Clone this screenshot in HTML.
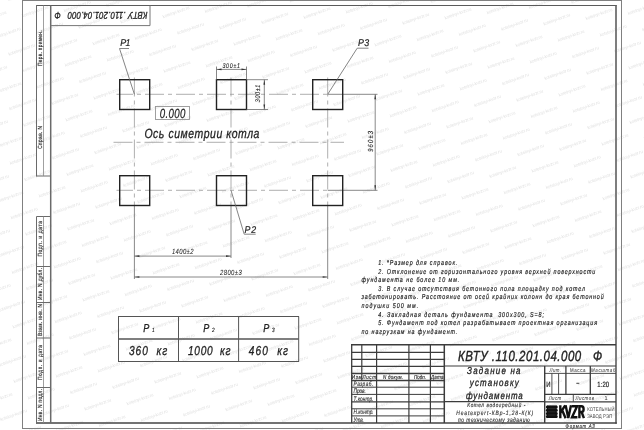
<!DOCTYPE html>
<html><head><meta charset="utf-8"><style>
html,body{margin:0;padding:0;background:#fff;}
svg{display:block;will-change:transform;}
text{font-family:"Liberation Sans", sans-serif;text-rendering:geometricPrecision;}
</style></head><body>
<svg width="644" height="430" viewBox="0 0 644 430">
<rect width="644" height="430" fill="#fff"/>
<defs><text id="wm" x="0" y="15" transform="rotate(-19.5) scale(0.1)" text-anchor="middle" font-size="46" fill="#e2e2e2" textLength="280" lengthAdjust="spacingAndGlyphs">kotelnyi-kvzr.ru</text></defs><use href="#wm" x="-14.5" y="436.7"/><use href="#wm" x="-15.3" y="382.1"/><use href="#wm" x="-1.0" y="398.6"/><use href="#wm" x="13.4" y="415.0"/><use href="#wm" x="27.7" y="431.4"/><use href="#wm" x="-16.2" y="327.6"/><use href="#wm" x="-1.9" y="344.0"/><use href="#wm" x="12.5" y="360.4"/><use href="#wm" x="26.9" y="376.9"/><use href="#wm" x="41.2" y="393.3"/><use href="#wm" x="55.6" y="409.7"/><use href="#wm" x="69.9" y="426.2"/><use href="#wm" x="-17.1" y="273.0"/><use href="#wm" x="-2.7" y="289.5"/><use href="#wm" x="11.6" y="305.9"/><use href="#wm" x="26.0" y="322.3"/><use href="#wm" x="40.3" y="338.8"/><use href="#wm" x="54.7" y="355.2"/><use href="#wm" x="69.1" y="371.6"/><use href="#wm" x="83.4" y="388.0"/><use href="#wm" x="97.8" y="404.5"/><use href="#wm" x="112.1" y="420.9"/><use href="#wm" x="126.5" y="437.3"/><use href="#wm" x="-18.0" y="218.5"/><use href="#wm" x="-3.6" y="234.9"/><use href="#wm" x="10.7" y="251.3"/><use href="#wm" x="25.1" y="267.8"/><use href="#wm" x="39.5" y="284.2"/><use href="#wm" x="53.8" y="300.6"/><use href="#wm" x="68.2" y="317.1"/><use href="#wm" x="82.5" y="333.5"/><use href="#wm" x="96.9" y="349.9"/><use href="#wm" x="111.3" y="366.4"/><use href="#wm" x="125.6" y="382.8"/><use href="#wm" x="140.0" y="399.2"/><use href="#wm" x="154.3" y="415.6"/><use href="#wm" x="168.7" y="432.1"/><use href="#wm" x="-18.9" y="163.9"/><use href="#wm" x="-4.5" y="180.4"/><use href="#wm" x="9.9" y="196.8"/><use href="#wm" x="24.2" y="213.2"/><use href="#wm" x="38.6" y="229.7"/><use href="#wm" x="52.9" y="246.1"/><use href="#wm" x="67.3" y="262.5"/><use href="#wm" x="81.7" y="278.9"/><use href="#wm" x="96.0" y="295.4"/><use href="#wm" x="110.4" y="311.8"/><use href="#wm" x="124.7" y="328.2"/><use href="#wm" x="139.1" y="344.7"/><use href="#wm" x="153.5" y="361.1"/><use href="#wm" x="167.8" y="377.5"/><use href="#wm" x="182.2" y="394.0"/><use href="#wm" x="196.5" y="410.4"/><use href="#wm" x="210.9" y="426.8"/><use href="#wm" x="-19.7" y="109.4"/><use href="#wm" x="-5.4" y="125.8"/><use href="#wm" x="9.0" y="142.2"/><use href="#wm" x="23.3" y="158.7"/><use href="#wm" x="37.7" y="175.1"/><use href="#wm" x="52.1" y="191.5"/><use href="#wm" x="66.4" y="208.0"/><use href="#wm" x="80.8" y="224.4"/><use href="#wm" x="95.1" y="240.8"/><use href="#wm" x="109.5" y="257.2"/><use href="#wm" x="123.9" y="273.7"/><use href="#wm" x="138.2" y="290.1"/><use href="#wm" x="152.6" y="306.5"/><use href="#wm" x="166.9" y="323.0"/><use href="#wm" x="181.3" y="339.4"/><use href="#wm" x="195.7" y="355.8"/><use href="#wm" x="210.0" y="372.3"/><use href="#wm" x="224.4" y="388.7"/><use href="#wm" x="238.7" y="405.1"/><use href="#wm" x="253.1" y="421.5"/><use href="#wm" x="267.5" y="438.0"/><use href="#wm" x="-6.3" y="71.3"/><use href="#wm" x="8.1" y="87.7"/><use href="#wm" x="22.5" y="104.1"/><use href="#wm" x="36.8" y="120.6"/><use href="#wm" x="51.2" y="137.0"/><use href="#wm" x="65.5" y="153.4"/><use href="#wm" x="79.9" y="169.8"/><use href="#wm" x="94.3" y="186.3"/><use href="#wm" x="108.6" y="202.7"/><use href="#wm" x="123.0" y="219.1"/><use href="#wm" x="137.3" y="235.6"/><use href="#wm" x="151.7" y="252.0"/><use href="#wm" x="166.1" y="268.4"/><use href="#wm" x="180.4" y="284.9"/><use href="#wm" x="194.8" y="301.3"/><use href="#wm" x="209.1" y="317.7"/><use href="#wm" x="223.5" y="334.1"/><use href="#wm" x="237.9" y="350.6"/><use href="#wm" x="252.2" y="367.0"/><use href="#wm" x="266.6" y="383.4"/><use href="#wm" x="280.9" y="399.9"/><use href="#wm" x="295.3" y="416.3"/><use href="#wm" x="309.7" y="432.7"/><use href="#wm" x="-7.1" y="16.7"/><use href="#wm" x="7.2" y="33.1"/><use href="#wm" x="21.6" y="49.6"/><use href="#wm" x="35.9" y="66.0"/><use href="#wm" x="50.3" y="82.4"/><use href="#wm" x="64.7" y="98.9"/><use href="#wm" x="79.0" y="115.3"/><use href="#wm" x="93.4" y="131.7"/><use href="#wm" x="107.7" y="148.1"/><use href="#wm" x="122.1" y="164.6"/><use href="#wm" x="136.5" y="181.0"/><use href="#wm" x="150.8" y="197.4"/><use href="#wm" x="165.2" y="213.9"/><use href="#wm" x="179.5" y="230.3"/><use href="#wm" x="193.9" y="246.7"/><use href="#wm" x="208.3" y="263.2"/><use href="#wm" x="222.6" y="279.6"/><use href="#wm" x="237.0" y="296.0"/><use href="#wm" x="251.3" y="312.4"/><use href="#wm" x="265.7" y="328.9"/><use href="#wm" x="280.1" y="345.3"/><use href="#wm" x="294.4" y="361.7"/><use href="#wm" x="308.8" y="378.2"/><use href="#wm" x="323.1" y="394.6"/><use href="#wm" x="337.5" y="411.0"/><use href="#wm" x="351.9" y="427.5"/><use href="#wm" x="20.7" y="-5.0"/><use href="#wm" x="35.1" y="11.4"/><use href="#wm" x="49.4" y="27.9"/><use href="#wm" x="63.8" y="44.3"/><use href="#wm" x="78.1" y="60.7"/><use href="#wm" x="92.5" y="77.2"/><use href="#wm" x="106.9" y="93.6"/><use href="#wm" x="121.2" y="110.0"/><use href="#wm" x="135.6" y="126.5"/><use href="#wm" x="149.9" y="142.9"/><use href="#wm" x="164.3" y="159.3"/><use href="#wm" x="178.7" y="175.8"/><use href="#wm" x="193.0" y="192.2"/><use href="#wm" x="207.4" y="208.6"/><use href="#wm" x="221.7" y="225.0"/><use href="#wm" x="236.1" y="241.5"/><use href="#wm" x="250.5" y="257.9"/><use href="#wm" x="264.8" y="274.3"/><use href="#wm" x="279.2" y="290.8"/><use href="#wm" x="293.5" y="307.2"/><use href="#wm" x="307.9" y="323.6"/><use href="#wm" x="322.3" y="340.0"/><use href="#wm" x="336.6" y="356.5"/><use href="#wm" x="351.0" y="372.9"/><use href="#wm" x="365.3" y="389.3"/><use href="#wm" x="379.7" y="405.8"/><use href="#wm" x="394.1" y="422.2"/><use href="#wm" x="408.4" y="438.6"/><use href="#wm" x="77.3" y="6.2"/><use href="#wm" x="91.6" y="22.6"/><use href="#wm" x="106.0" y="39.1"/><use href="#wm" x="120.3" y="55.5"/><use href="#wm" x="134.7" y="71.9"/><use href="#wm" x="149.1" y="88.3"/><use href="#wm" x="163.4" y="104.8"/><use href="#wm" x="177.8" y="121.2"/><use href="#wm" x="192.1" y="137.6"/><use href="#wm" x="206.5" y="154.1"/><use href="#wm" x="220.9" y="170.5"/><use href="#wm" x="235.2" y="186.9"/><use href="#wm" x="249.6" y="203.3"/><use href="#wm" x="263.9" y="219.8"/><use href="#wm" x="278.3" y="236.2"/><use href="#wm" x="292.7" y="252.6"/><use href="#wm" x="307.0" y="269.1"/><use href="#wm" x="321.4" y="285.5"/><use href="#wm" x="335.7" y="301.9"/><use href="#wm" x="350.1" y="318.4"/><use href="#wm" x="364.5" y="334.8"/><use href="#wm" x="378.8" y="351.2"/><use href="#wm" x="393.2" y="367.6"/><use href="#wm" x="407.5" y="384.1"/><use href="#wm" x="421.9" y="400.5"/><use href="#wm" x="436.3" y="416.9"/><use href="#wm" x="450.6" y="433.4"/><use href="#wm" x="119.5" y="0.9"/><use href="#wm" x="133.8" y="17.4"/><use href="#wm" x="148.2" y="33.8"/><use href="#wm" x="162.5" y="50.2"/><use href="#wm" x="176.9" y="66.7"/><use href="#wm" x="191.3" y="83.1"/><use href="#wm" x="205.6" y="99.5"/><use href="#wm" x="220.0" y="115.9"/><use href="#wm" x="234.3" y="132.4"/><use href="#wm" x="248.7" y="148.8"/><use href="#wm" x="263.1" y="165.2"/><use href="#wm" x="277.4" y="181.7"/><use href="#wm" x="291.8" y="198.1"/><use href="#wm" x="306.1" y="214.5"/><use href="#wm" x="320.5" y="231.0"/><use href="#wm" x="334.9" y="247.4"/><use href="#wm" x="349.2" y="263.8"/><use href="#wm" x="363.6" y="280.2"/><use href="#wm" x="377.9" y="296.7"/><use href="#wm" x="392.3" y="313.1"/><use href="#wm" x="406.7" y="329.5"/><use href="#wm" x="421.0" y="346.0"/><use href="#wm" x="435.4" y="362.4"/><use href="#wm" x="449.7" y="378.8"/><use href="#wm" x="464.1" y="395.2"/><use href="#wm" x="478.5" y="411.7"/><use href="#wm" x="492.8" y="428.1"/><use href="#wm" x="161.7" y="-4.3"/><use href="#wm" x="176.0" y="12.1"/><use href="#wm" x="190.4" y="28.5"/><use href="#wm" x="204.7" y="45.0"/><use href="#wm" x="219.1" y="61.4"/><use href="#wm" x="233.5" y="77.8"/><use href="#wm" x="247.8" y="94.2"/><use href="#wm" x="262.2" y="110.7"/><use href="#wm" x="276.5" y="127.1"/><use href="#wm" x="290.9" y="143.5"/><use href="#wm" x="305.3" y="160.0"/><use href="#wm" x="319.6" y="176.4"/><use href="#wm" x="334.0" y="192.8"/><use href="#wm" x="348.3" y="209.3"/><use href="#wm" x="362.7" y="225.7"/><use href="#wm" x="377.1" y="242.1"/><use href="#wm" x="391.4" y="258.5"/><use href="#wm" x="405.8" y="275.0"/><use href="#wm" x="420.1" y="291.4"/><use href="#wm" x="434.5" y="307.8"/><use href="#wm" x="448.9" y="324.3"/><use href="#wm" x="463.2" y="340.7"/><use href="#wm" x="477.6" y="357.1"/><use href="#wm" x="491.9" y="373.6"/><use href="#wm" x="506.3" y="390.0"/><use href="#wm" x="520.7" y="406.4"/><use href="#wm" x="535.0" y="422.9"/><use href="#wm" x="549.4" y="439.3"/><use href="#wm" x="203.9" y="-9.6"/><use href="#wm" x="218.2" y="6.8"/><use href="#wm" x="232.6" y="23.3"/><use href="#wm" x="246.9" y="39.7"/><use href="#wm" x="261.3" y="56.1"/><use href="#wm" x="275.7" y="72.6"/><use href="#wm" x="290.0" y="89.0"/><use href="#wm" x="304.4" y="105.4"/><use href="#wm" x="318.7" y="121.8"/><use href="#wm" x="333.1" y="138.3"/><use href="#wm" x="347.5" y="154.7"/><use href="#wm" x="361.8" y="171.1"/><use href="#wm" x="376.2" y="187.6"/><use href="#wm" x="390.5" y="204.0"/><use href="#wm" x="404.9" y="220.4"/><use href="#wm" x="419.3" y="236.9"/><use href="#wm" x="433.6" y="253.3"/><use href="#wm" x="448.0" y="269.7"/><use href="#wm" x="462.3" y="286.1"/><use href="#wm" x="476.7" y="302.6"/><use href="#wm" x="491.1" y="319.0"/><use href="#wm" x="505.4" y="335.4"/><use href="#wm" x="519.8" y="351.9"/><use href="#wm" x="534.1" y="368.3"/><use href="#wm" x="548.5" y="384.7"/><use href="#wm" x="562.9" y="401.2"/><use href="#wm" x="577.2" y="417.6"/><use href="#wm" x="591.6" y="434.0"/><use href="#wm" x="260.4" y="1.6"/><use href="#wm" x="274.8" y="18.0"/><use href="#wm" x="289.1" y="34.4"/><use href="#wm" x="303.5" y="50.9"/><use href="#wm" x="317.9" y="67.3"/><use href="#wm" x="332.2" y="83.7"/><use href="#wm" x="346.6" y="100.2"/><use href="#wm" x="360.9" y="116.6"/><use href="#wm" x="375.3" y="133.0"/><use href="#wm" x="389.7" y="149.5"/><use href="#wm" x="404.0" y="165.9"/><use href="#wm" x="418.4" y="182.3"/><use href="#wm" x="432.7" y="198.7"/><use href="#wm" x="447.1" y="215.2"/><use href="#wm" x="461.5" y="231.6"/><use href="#wm" x="475.8" y="248.0"/><use href="#wm" x="490.2" y="264.5"/><use href="#wm" x="504.5" y="280.9"/><use href="#wm" x="518.9" y="297.3"/><use href="#wm" x="533.3" y="313.8"/><use href="#wm" x="547.6" y="330.2"/><use href="#wm" x="562.0" y="346.6"/><use href="#wm" x="576.3" y="363.0"/><use href="#wm" x="590.7" y="379.5"/><use href="#wm" x="605.1" y="395.9"/><use href="#wm" x="619.4" y="412.3"/><use href="#wm" x="633.8" y="428.8"/><use href="#wm" x="302.6" y="-3.7"/><use href="#wm" x="317.0" y="12.8"/><use href="#wm" x="331.3" y="29.2"/><use href="#wm" x="345.7" y="45.6"/><use href="#wm" x="360.1" y="62.0"/><use href="#wm" x="374.4" y="78.5"/><use href="#wm" x="388.8" y="94.9"/><use href="#wm" x="403.1" y="111.3"/><use href="#wm" x="417.5" y="127.8"/><use href="#wm" x="431.9" y="144.2"/><use href="#wm" x="446.2" y="160.6"/><use href="#wm" x="460.6" y="177.1"/><use href="#wm" x="474.9" y="193.5"/><use href="#wm" x="489.3" y="209.9"/><use href="#wm" x="503.7" y="226.3"/><use href="#wm" x="518.0" y="242.8"/><use href="#wm" x="532.4" y="259.2"/><use href="#wm" x="546.7" y="275.6"/><use href="#wm" x="561.1" y="292.1"/><use href="#wm" x="575.5" y="308.5"/><use href="#wm" x="589.8" y="324.9"/><use href="#wm" x="604.2" y="341.4"/><use href="#wm" x="618.5" y="357.8"/><use href="#wm" x="632.9" y="374.2"/><use href="#wm" x="647.3" y="390.6"/><use href="#wm" x="661.6" y="407.1"/><use href="#wm" x="344.8" y="-8.9"/><use href="#wm" x="359.2" y="7.5"/><use href="#wm" x="373.5" y="23.9"/><use href="#wm" x="387.9" y="40.3"/><use href="#wm" x="402.3" y="56.8"/><use href="#wm" x="416.6" y="73.2"/><use href="#wm" x="431.0" y="89.6"/><use href="#wm" x="445.3" y="106.1"/><use href="#wm" x="459.7" y="122.5"/><use href="#wm" x="474.1" y="138.9"/><use href="#wm" x="488.4" y="155.4"/><use href="#wm" x="502.8" y="171.8"/><use href="#wm" x="517.1" y="188.2"/><use href="#wm" x="531.5" y="204.7"/><use href="#wm" x="545.9" y="221.1"/><use href="#wm" x="560.2" y="237.5"/><use href="#wm" x="574.6" y="253.9"/><use href="#wm" x="588.9" y="270.4"/><use href="#wm" x="603.3" y="286.8"/><use href="#wm" x="617.7" y="303.2"/><use href="#wm" x="632.0" y="319.7"/><use href="#wm" x="646.4" y="336.1"/><use href="#wm" x="660.7" y="352.5"/><use href="#wm" x="401.4" y="2.2"/><use href="#wm" x="415.7" y="18.7"/><use href="#wm" x="430.1" y="35.1"/><use href="#wm" x="444.5" y="51.5"/><use href="#wm" x="458.8" y="67.9"/><use href="#wm" x="473.2" y="84.4"/><use href="#wm" x="487.5" y="100.8"/><use href="#wm" x="501.9" y="117.2"/><use href="#wm" x="516.3" y="133.7"/><use href="#wm" x="530.6" y="150.1"/><use href="#wm" x="545.0" y="166.5"/><use href="#wm" x="559.3" y="183.0"/><use href="#wm" x="573.7" y="199.4"/><use href="#wm" x="588.1" y="215.8"/><use href="#wm" x="602.4" y="232.2"/><use href="#wm" x="616.8" y="248.7"/><use href="#wm" x="631.1" y="265.1"/><use href="#wm" x="645.5" y="281.5"/><use href="#wm" x="659.9" y="298.0"/><use href="#wm" x="443.6" y="-3.0"/><use href="#wm" x="457.9" y="13.4"/><use href="#wm" x="472.3" y="29.8"/><use href="#wm" x="486.7" y="46.3"/><use href="#wm" x="501.0" y="62.7"/><use href="#wm" x="515.4" y="79.1"/><use href="#wm" x="529.7" y="95.6"/><use href="#wm" x="544.1" y="112.0"/><use href="#wm" x="558.5" y="128.4"/><use href="#wm" x="572.8" y="144.8"/><use href="#wm" x="587.2" y="161.3"/><use href="#wm" x="601.5" y="177.7"/><use href="#wm" x="615.9" y="194.1"/><use href="#wm" x="630.3" y="210.6"/><use href="#wm" x="644.6" y="227.0"/><use href="#wm" x="659.0" y="243.4"/><use href="#wm" x="485.8" y="-8.3"/><use href="#wm" x="500.1" y="8.1"/><use href="#wm" x="514.5" y="24.6"/><use href="#wm" x="528.9" y="41.0"/><use href="#wm" x="543.2" y="57.4"/><use href="#wm" x="557.6" y="73.9"/><use href="#wm" x="571.9" y="90.3"/><use href="#wm" x="586.3" y="106.7"/><use href="#wm" x="600.7" y="123.2"/><use href="#wm" x="615.0" y="139.6"/><use href="#wm" x="629.4" y="156.0"/><use href="#wm" x="643.7" y="172.4"/><use href="#wm" x="658.1" y="188.9"/><use href="#wm" x="542.3" y="2.9"/><use href="#wm" x="556.7" y="19.3"/><use href="#wm" x="571.1" y="35.7"/><use href="#wm" x="585.4" y="52.2"/><use href="#wm" x="599.8" y="68.6"/><use href="#wm" x="614.1" y="85.0"/><use href="#wm" x="628.5" y="101.5"/><use href="#wm" x="642.9" y="117.9"/><use href="#wm" x="657.2" y="134.3"/><use href="#wm" x="584.5" y="-2.4"/><use href="#wm" x="598.9" y="14.0"/><use href="#wm" x="613.3" y="30.5"/><use href="#wm" x="627.6" y="46.9"/><use href="#wm" x="642.0" y="63.3"/><use href="#wm" x="656.3" y="79.8"/><use href="#wm" x="626.7" y="-7.6"/><use href="#wm" x="641.1" y="8.8"/><use href="#wm" x="655.5" y="25.2"/>
<rect x="22.5" y="0.5" width="599" height="428" stroke="#808080" stroke-width="1" fill="none"/>
<line x1="36" y1="5.5" x2="616.5" y2="5.5" stroke="#5a5a5a" stroke-width="1.2"/>
<line x1="616" y1="5" x2="616" y2="423.7" stroke="#5e5e5e" stroke-width="1.6"/>
<line x1="36" y1="423" x2="616.8" y2="423" stroke="#444" stroke-width="1.3"/>
<line x1="50.7" y1="5.5" x2="50.7" y2="423" stroke="#6a6a6a" stroke-width="1.5"/>
<line x1="36.5" y1="5" x2="36.5" y2="176.5" stroke="#6a6a6a" stroke-width="1"/>
<line x1="36.5" y1="176" x2="50.7" y2="176" stroke="#6a6a6a" stroke-width="1"/>
<line x1="43.5" y1="5.5" x2="43.5" y2="176" stroke="#888" stroke-width="0.8"/>
<line x1="36.5" y1="216.5" x2="36.5" y2="423.5" stroke="#6a6a6a" stroke-width="1"/>
<line x1="36.5" y1="216.5" x2="50.7" y2="216.5" stroke="#6a6a6a" stroke-width="1"/>
<line x1="43.5" y1="216.5" x2="43.5" y2="423" stroke="#888" stroke-width="0.8"/>
<line x1="36.5" y1="266.5" x2="50.7" y2="266.5" stroke="#6a6a6a" stroke-width="1"/>
<line x1="36.5" y1="302.5" x2="50.7" y2="302.5" stroke="#6a6a6a" stroke-width="1"/>
<line x1="36.5" y1="338" x2="50.7" y2="338" stroke="#6a6a6a" stroke-width="1"/>
<line x1="36.5" y1="387.5" x2="50.7" y2="387.5" stroke="#6a6a6a" stroke-width="1"/>
<line x1="50.7" y1="25.6" x2="150" y2="25.6" stroke="#777" stroke-width="1"/>
<line x1="150" y1="5.5" x2="150" y2="25.6" stroke="#777" stroke-width="1"/>
<text font-size="60.0" fill="#333" textLength="443.8" lengthAdjust="spacing" transform="translate(42.1 66) rotate(-90) scale(0.0800 0.1)" font-weight="normal" stroke="#333" stroke-width="2.00">Перв. примен.</text>
<text font-size="60.0" fill="#333" textLength="285.0" lengthAdjust="spacing" transform="translate(42.1 148.8) rotate(-90) scale(0.0800 0.1)" font-weight="normal" stroke="#333" stroke-width="2.00">Справ. N</text>
<text font-size="60.0" fill="#333" textLength="443.8" lengthAdjust="spacing" transform="translate(41.8 256.5) rotate(-90) scale(0.0800 0.1)" font-weight="normal" stroke="#333" stroke-width="2.00">Подп. и дата</text>
<text font-size="60.0" fill="#333" textLength="400.0" lengthAdjust="spacing" transform="translate(41.8 300) rotate(-90) scale(0.0800 0.1)" font-weight="normal" stroke="#333" stroke-width="2.00">Инв. N дубл.</text>
<text font-size="60.0" fill="#333" textLength="400.0" lengthAdjust="spacing" transform="translate(41.8 336) rotate(-90) scale(0.0800 0.1)" font-weight="normal" stroke="#333" stroke-width="2.00">Взам. инв. N</text>
<text font-size="60.0" fill="#333" textLength="437.5" lengthAdjust="spacing" transform="translate(41.8 380) rotate(-90) scale(0.0800 0.1)" font-weight="normal" stroke="#333" stroke-width="2.00">Подп. и дата</text>
<text font-size="60.0" fill="#333" textLength="400.0" lengthAdjust="spacing" transform="translate(41.8 421) rotate(-90) scale(0.0800 0.1)" font-weight="normal" stroke="#333" stroke-width="2.00">Инв. N подл.</text>
<text font-size="100.0" fill="#222" font-style="italic" textLength="1192.3" lengthAdjust="spacing" transform="translate(147.5 12) rotate(180) scale(0.0780 0.1)" font-weight="normal" stroke="#222" stroke-width="3.00">КВТУ .110.201.04.000&#160;&#160; Ф</text>
<line x1="116.5" y1="94.3" x2="327.7" y2="94.3" stroke="#9a9a9a" stroke-width="0.8" stroke-dasharray="19 4 4 4" stroke-dashoffset="2.5"/>
<line x1="327.7" y1="94.3" x2="377.5" y2="94.3" stroke="#6a6a6a" stroke-width="0.8"/>
<line x1="116.5" y1="190.3" x2="327.7" y2="190.3" stroke="#9a9a9a" stroke-width="0.8" stroke-dasharray="19 4 4 4" stroke-dashoffset="2.5"/>
<line x1="327.7" y1="190.3" x2="377.5" y2="190.3" stroke="#6a6a6a" stroke-width="0.8"/>
<line x1="113.5" y1="142.3" x2="344" y2="142.3" stroke="#9a9a9a" stroke-width="0.8" stroke-dasharray="19 4 4 4" stroke-dashoffset="0"/>
<line x1="134.4" y1="75.5" x2="134.4" y2="205.5" stroke="#9a9a9a" stroke-width="0.8" stroke-dasharray="19 4 4 4" stroke-dashoffset="-2"/>
<line x1="134.4" y1="205.5" x2="134.4" y2="279" stroke="#6a6a6a" stroke-width="0.8"/>
<line x1="231" y1="75.5" x2="231" y2="205.5" stroke="#9a9a9a" stroke-width="0.8" stroke-dasharray="19 4 4 4" stroke-dashoffset="-2"/>
<line x1="231" y1="205.5" x2="231" y2="258" stroke="#6a6a6a" stroke-width="0.8"/>
<line x1="327.7" y1="75.5" x2="327.7" y2="205.5" stroke="#9a9a9a" stroke-width="0.8" stroke-dasharray="19 4 4 4" stroke-dashoffset="-2"/>
<line x1="327.7" y1="205.5" x2="327.7" y2="279" stroke="#6a6a6a" stroke-width="0.8"/>
<rect x="119.7" y="79.7" width="30" height="29.8" stroke="#222" stroke-width="1.4" fill="none"/>
<rect x="119.7" y="175.7" width="30" height="29.8" stroke="#222" stroke-width="1.4" fill="none"/>
<rect x="216.5" y="79.7" width="30" height="29.8" stroke="#222" stroke-width="1.4" fill="none"/>
<rect x="216.5" y="175.7" width="30" height="29.8" stroke="#222" stroke-width="1.4" fill="none"/>
<rect x="312.7" y="79.7" width="30" height="29.8" stroke="#222" stroke-width="1.4" fill="none"/>
<rect x="312.7" y="175.7" width="30" height="29.8" stroke="#222" stroke-width="1.4" fill="none"/>
<line x1="119.5" y1="48.5" x2="134.4" y2="94.3" stroke="#666" stroke-width="0.8"/>
<line x1="119.5" y1="48.5" x2="129" y2="48.5" stroke="#666" stroke-width="0.8"/>
<text font-size="98.0" fill="#222" font-style="italic" textLength="113.3" lengthAdjust="spacing" transform="translate(120.3 46.3) scale(0.0900 0.1)" font-weight="normal" stroke="#222" stroke-width="2.00">P1</text>
<line x1="357.2" y1="48.2" x2="327.7" y2="94.3" stroke="#666" stroke-width="0.8"/>
<line x1="357.2" y1="48.2" x2="368.5" y2="48.2" stroke="#666" stroke-width="0.8"/>
<text font-size="98.0" fill="#222" font-style="italic" textLength="124.4" lengthAdjust="spacing" transform="translate(358 46.2) scale(0.0900 0.1)" font-weight="normal" stroke="#222" stroke-width="2.00">P3</text>
<line x1="231" y1="190.3" x2="244.2" y2="234.2" stroke="#666" stroke-width="0.8"/>
<line x1="244.2" y1="234.2" x2="255.7" y2="234.2" stroke="#666" stroke-width="0.8"/>
<text font-size="98.0" fill="#222" font-style="italic" textLength="127.8" lengthAdjust="spacing" transform="translate(244.6 232.9) scale(0.0900 0.1)" font-weight="normal" stroke="#222" stroke-width="2.00">P2</text>
<line x1="216.5" y1="66.5" x2="216.5" y2="79.7" stroke="#6a6a6a" stroke-width="0.8"/>
<line x1="246.5" y1="66.5" x2="246.5" y2="79.7" stroke="#6a6a6a" stroke-width="0.8"/>
<line x1="216.5" y1="69.4" x2="246.5" y2="69.4" stroke="#6a6a6a" stroke-width="0.8"/>
<polygon points="216.50,69.40 221.50,68.55 221.50,70.25" fill="#333"/>
<polygon points="246.50,69.40 241.50,68.55 241.50,70.25" fill="#333"/>
<text font-size="68.0" fill="#222" font-style="italic" textLength="225.6" lengthAdjust="spacing" transform="translate(222.4 67.9) scale(0.0780 0.1)" font-weight="normal" stroke="#222" stroke-width="1.00">300±1</text>
<line x1="246.5" y1="79.7" x2="268" y2="79.7" stroke="#6a6a6a" stroke-width="0.8"/>
<line x1="246.5" y1="109.5" x2="268" y2="109.5" stroke="#6a6a6a" stroke-width="0.8"/>
<line x1="264.3" y1="79.7" x2="264.3" y2="109.5" stroke="#6a6a6a" stroke-width="0.8"/>
<polygon points="264.30,79.70 263.45,84.70 265.15,84.70" fill="#333"/>
<polygon points="264.30,109.50 263.45,104.50 265.15,104.50" fill="#333"/>
<text font-size="68.0" fill="#222" font-style="italic" textLength="223.1" lengthAdjust="spacing" transform="translate(260 102.2) rotate(-90) scale(0.0780 0.1)" font-weight="normal" stroke="#222" stroke-width="1.00">300±1</text>
<line x1="375.2" y1="94.3" x2="375.2" y2="190.3" stroke="#6a6a6a" stroke-width="0.8"/>
<polygon points="375.20,94.30 374.35,99.30 376.05,99.30" fill="#333"/>
<polygon points="375.20,190.30 374.35,185.30 376.05,185.30" fill="#333"/>
<text font-size="74.0" fill="#222" font-style="italic" textLength="266.7" lengthAdjust="spacing" transform="translate(373.4 151.8) rotate(-90) scale(0.0780 0.1)" font-weight="normal" stroke="#222" stroke-width="1.00">960±3</text>
<line x1="134.4" y1="256.1" x2="231" y2="256.1" stroke="#6a6a6a" stroke-width="0.8"/>
<polygon points="134.40,256.10 139.40,255.25 139.40,256.95" fill="#333"/>
<polygon points="231.00,256.10 226.00,255.25 226.00,256.95" fill="#333"/>
<text font-size="76.0" fill="#222" font-style="italic" textLength="276.9" lengthAdjust="spacing" transform="translate(171.9 254) scale(0.0780 0.1)" font-weight="normal" stroke="#222" stroke-width="0.50">1400±2</text>
<line x1="134.4" y1="277" x2="327.7" y2="277" stroke="#6a6a6a" stroke-width="0.8"/>
<polygon points="134.40,277.00 139.40,276.15 139.40,277.85" fill="#333"/>
<polygon points="327.70,277.00 322.70,276.15 322.70,277.85" fill="#333"/>
<text font-size="76.0" fill="#222" font-style="italic" textLength="278.2" lengthAdjust="spacing" transform="translate(220 274.9) scale(0.0780 0.1)" font-weight="normal" stroke="#222" stroke-width="0.50">2800±3</text>
<rect x="155.5" y="106.5" width="34" height="13" stroke="#959595" stroke-width="0.9" fill="none"/>
<text font-size="134.0" fill="#222" font-style="italic" textLength="355.6" lengthAdjust="spacing" transform="translate(159.7 117.5) scale(0.0720 0.1)" font-weight="normal" stroke="#222" stroke-width="2.00">0.000</text>
<text font-size="134.0" fill="#222" font-style="italic" textLength="1474.4" lengthAdjust="spacing" transform="translate(144.4 137.8) scale(0.0780 0.1)" font-weight="normal" stroke="#222" stroke-width="3.00">Ось симетрии котла</text>
<text font-size="72.0" fill="#222" font-style="italic" textLength="1068.9" lengthAdjust="spacing" transform="translate(378.2 265) scale(0.0740 0.1)" font-weight="normal" stroke="#222" stroke-width="1.80">1. *Размер для справок.</text>
<text font-size="72.0" fill="#222" font-style="italic" textLength="2932.4" lengthAdjust="spacing" transform="translate(378.2 273.6) scale(0.0740 0.1)" font-weight="normal" stroke="#222" stroke-width="1.80">2. Отклонение от горизонтального уровня верхней поверхности</text>
<text font-size="72.0" fill="#222" font-style="italic" textLength="1321.6" lengthAdjust="spacing" transform="translate(361.5 282.2) scale(0.0740 0.1)" font-weight="normal" stroke="#222" stroke-width="1.80">фундамента не более 10 мм.</text>
<text font-size="72.0" fill="#222" font-style="italic" textLength="2794.6" lengthAdjust="spacing" transform="translate(378.2 290.8) scale(0.0740 0.1)" font-weight="normal" stroke="#222" stroke-width="1.80">3. В случае отсутствия бетонного пола площадку под котел</text>
<text font-size="72.0" fill="#222" font-style="italic" textLength="3271.6" lengthAdjust="spacing" transform="translate(361.5 299.4) scale(0.0740 0.1)" font-weight="normal" stroke="#222" stroke-width="1.80">забетонировать. Расстояние от осей крайних колонн до края бетонной</text>
<text font-size="72.0" fill="#222" font-style="italic" textLength="766.2" lengthAdjust="spacing" transform="translate(361.5 308) scale(0.0740 0.1)" font-weight="normal" stroke="#222" stroke-width="1.80">подушки 500 мм.</text>
<text font-size="72.0" fill="#222" font-style="italic" textLength="2240.5" lengthAdjust="spacing" transform="translate(378.2 316.6) scale(0.0740 0.1)" font-weight="normal" stroke="#222" stroke-width="1.80">4. Закладная деталь фундамента&#160; 300x300, S=8;</text>
<text font-size="72.0" fill="#222" font-style="italic" textLength="2956.8" lengthAdjust="spacing" transform="translate(378.2 325.2) scale(0.0740 0.1)" font-weight="normal" stroke="#222" stroke-width="1.80">5. Фундамент под котел разрабатывает проектная организация</text>
<text font-size="72.0" fill="#222" font-style="italic" textLength="1294.6" lengthAdjust="spacing" transform="translate(361.5 333.8) scale(0.0740 0.1)" font-weight="normal" stroke="#222" stroke-width="1.80">по нагрузкам на фундамент.</text>
<line x1="118" y1="316.5" x2="299" y2="316.5" stroke="#555" stroke-width="1"/>
<line x1="118" y1="361.5" x2="299" y2="361.5" stroke="#555" stroke-width="1"/>
<line x1="118.5" y1="316.5" x2="118.5" y2="361.5" stroke="#555" stroke-width="1"/>
<line x1="298.7" y1="316.5" x2="298.7" y2="361.5" stroke="#555" stroke-width="1"/>
<line x1="118.5" y1="339" x2="298.7" y2="339" stroke="#555" stroke-width="1.4"/>
<line x1="178.5" y1="316.5" x2="178.5" y2="361.5" stroke="#555" stroke-width="1"/>
<line x1="238.6" y1="316.5" x2="238.6" y2="361.5" stroke="#555" stroke-width="1"/>
<text font-size="116.0" fill="#222" font-style="italic" textLength="97.4" lengthAdjust="spacing" transform="translate(143.2 332) scale(0.0780 0.1)" font-weight="normal" stroke="#222" stroke-width="3.00">P</text>
<text font-size="60.0" fill="#222" font-style="italic" textLength="32.1" lengthAdjust="spacing" transform="translate(151.9 332.3) scale(0.0780 0.1)" font-weight="normal" stroke="#222" stroke-width="1.50">1</text>
<text font-size="130.0" fill="#222" font-style="italic" textLength="492.3" lengthAdjust="spacing" transform="translate(128.9 355) scale(0.0780 0.1)" font-weight="normal" stroke="#222" stroke-width="3.00">360&#160; кг</text>
<text font-size="116.0" fill="#222" font-style="italic" textLength="97.4" lengthAdjust="spacing" transform="translate(203.2 332) scale(0.0780 0.1)" font-weight="normal" stroke="#222" stroke-width="3.00">P</text>
<text font-size="60.0" fill="#222" font-style="italic" textLength="32.1" lengthAdjust="spacing" transform="translate(211.9 332.3) scale(0.0780 0.1)" font-weight="normal" stroke="#222" stroke-width="1.50">2</text>
<text font-size="130.0" fill="#222" font-style="italic" textLength="543.6" lengthAdjust="spacing" transform="translate(188.1 355) scale(0.0780 0.1)" font-weight="normal" stroke="#222" stroke-width="3.00">1000&#160; кг</text>
<text font-size="116.0" fill="#222" font-style="italic" textLength="97.4" lengthAdjust="spacing" transform="translate(263.2 332) scale(0.0780 0.1)" font-weight="normal" stroke="#222" stroke-width="3.00">P</text>
<text font-size="60.0" fill="#222" font-style="italic" textLength="32.1" lengthAdjust="spacing" transform="translate(271.9 332.3) scale(0.0780 0.1)" font-weight="normal" stroke="#222" stroke-width="1.50">3</text>
<text font-size="130.0" fill="#222" font-style="italic" textLength="505.1" lengthAdjust="spacing" transform="translate(248.7 355) scale(0.0780 0.1)" font-weight="normal" stroke="#222" stroke-width="3.00">460&#160; кг</text>
<line x1="351" y1="344.7" x2="616" y2="344.7" stroke="#3c3c3c" stroke-width="1.4"/>
<line x1="351.7" y1="344.7" x2="351.7" y2="423" stroke="#3c3c3c" stroke-width="1.3"/>
<line x1="351.7" y1="352.4" x2="444.3" y2="352.4" stroke="#3c3c3c" stroke-width="1.3"/>
<line x1="351.7" y1="359.4" x2="444.3" y2="359.4" stroke="#3c3c3c" stroke-width="1.3"/>
<line x1="351.7" y1="366.4" x2="444.3" y2="366.4" stroke="#3c3c3c" stroke-width="1.3"/>
<line x1="351.7" y1="373.5" x2="444.3" y2="373.5" stroke="#3c3c3c" stroke-width="1.3"/>
<line x1="351.7" y1="380.5" x2="444.3" y2="380.5" stroke="#3c3c3c" stroke-width="1.3"/>
<line x1="351.7" y1="387.2" x2="444.3" y2="387.2" stroke="#3c3c3c" stroke-width="1.0"/>
<line x1="351.7" y1="394.4" x2="444.3" y2="394.4" stroke="#3c3c3c" stroke-width="1.0"/>
<line x1="351.7" y1="401.8" x2="444.3" y2="401.8" stroke="#3c3c3c" stroke-width="1.3"/>
<line x1="351.7" y1="408.8" x2="444.3" y2="408.8" stroke="#3c3c3c" stroke-width="1.0"/>
<line x1="351.7" y1="415.9" x2="444.3" y2="415.9" stroke="#3c3c3c" stroke-width="1.0"/>
<line x1="361.8" y1="344.7" x2="361.8" y2="380.5" stroke="#3c3c3c" stroke-width="1.2"/>
<line x1="376.6" y1="344.7" x2="376.6" y2="423" stroke="#3c3c3c" stroke-width="1.2"/>
<line x1="408.9" y1="344.7" x2="408.9" y2="423" stroke="#3c3c3c" stroke-width="1.2"/>
<line x1="430.4" y1="344.7" x2="430.4" y2="423" stroke="#3c3c3c" stroke-width="1.2"/>
<line x1="444.3" y1="344.7" x2="444.3" y2="423" stroke="#3c3c3c" stroke-width="1.5"/>
<line x1="444.3" y1="366" x2="616" y2="366" stroke="#3c3c3c" stroke-width="1.2"/>
<line x1="444.3" y1="401.6" x2="544.5" y2="401.6" stroke="#3c3c3c" stroke-width="1.2"/>
<line x1="544.7" y1="366" x2="544.7" y2="423" stroke="#3c3c3c" stroke-width="1.4"/>
<line x1="544.7" y1="373.4" x2="616" y2="373.4" stroke="#3c3c3c" stroke-width="0.9"/>
<line x1="544.7" y1="394.4" x2="616" y2="394.4" stroke="#3c3c3c" stroke-width="1.3"/>
<line x1="544.7" y1="401.8" x2="616" y2="401.8" stroke="#3c3c3c" stroke-width="1.3"/>
<line x1="565.9" y1="366" x2="565.9" y2="394.4" stroke="#3c3c3c" stroke-width="1.3"/>
<line x1="590.3" y1="366" x2="590.3" y2="394.4" stroke="#3c3c3c" stroke-width="1.3"/>
<line x1="551.9" y1="373.4" x2="551.9" y2="394.4" stroke="#3c3c3c" stroke-width="0.9"/>
<line x1="558.6" y1="373.4" x2="558.6" y2="394.4" stroke="#3c3c3c" stroke-width="0.9"/>
<line x1="573.3" y1="394.4" x2="573.3" y2="401.8" stroke="#3c3c3c" stroke-width="0.9"/>
<text font-size="147.0" fill="#222" font-style="italic" textLength="1846.2" lengthAdjust="spacing" transform="translate(458 361.3) scale(0.0780 0.1)" font-weight="normal" stroke="#222" stroke-width="4.00">КВТУ .110.201.04.000&#160;&#160; Ф</text>
<text font-size="102.0" fill="#222" font-style="italic" textLength="684.6" lengthAdjust="spacing" transform="translate(467.1 374.3) scale(0.0780 0.1)" font-weight="normal" stroke="#222" stroke-width="3.00">Задание на</text>
<text font-size="102.0" fill="#222" font-style="italic" textLength="628.2" lengthAdjust="spacing" transform="translate(469.8 386.3) scale(0.0780 0.1)" font-weight="normal" stroke="#222" stroke-width="3.00">установку</text>
<text font-size="102.0" fill="#222" font-style="italic" textLength="728.2" lengthAdjust="spacing" transform="translate(466 398.8) scale(0.0780 0.1)" font-weight="normal" stroke="#222" stroke-width="3.00">фундамента</text>
<text font-size="60.0" fill="#333" font-style="italic" textLength="743.6" lengthAdjust="spacing" transform="translate(467.3 407.2) scale(0.0780 0.1)" font-weight="normal" stroke="#333" stroke-width="1.50">Котел водогрейный -</text>
<text font-size="63.0" fill="#333" font-style="italic" textLength="987.2" lengthAdjust="spacing" transform="translate(456.2 414.6) scale(0.0780 0.1)" font-weight="normal" stroke="#333" stroke-width="1.50">Heatexpert-КВр-1,28-К(К)</text>
<text font-size="63.0" fill="#333" font-style="italic" textLength="919.2" lengthAdjust="spacing" transform="translate(458 421.8) scale(0.0780 0.1)" font-weight="normal" stroke="#333" stroke-width="1.50">по техническому заданию</text>
<text font-size="58.0" fill="#222" font-style="italic" textLength="124.4" lengthAdjust="spacing" transform="translate(351.8 379.3) scale(0.0780 0.1)" font-weight="normal" stroke="#222" stroke-width="1.50">Изм</text>
<text font-size="58.0" fill="#222" font-style="italic" textLength="173.1" lengthAdjust="spacing" transform="translate(362.5 379.3) scale(0.0780 0.1)" font-weight="normal" stroke="#222" stroke-width="1.50">Лист</text>
<text font-size="58.0" fill="#222" font-style="italic" textLength="256.4" lengthAdjust="spacing" transform="translate(383 379.3) scale(0.0780 0.1)" font-weight="normal" stroke="#222" stroke-width="1.50">N докум.</text>
<text font-size="58.0" fill="#222" font-style="italic" textLength="153.8" lengthAdjust="spacing" transform="translate(414 379.3) scale(0.0780 0.1)" font-weight="normal" stroke="#222" stroke-width="1.50">Подп.</text>
<text font-size="58.0" fill="#222" font-style="italic" textLength="160.3" lengthAdjust="spacing" transform="translate(431 379.3) scale(0.0780 0.1)" font-weight="normal" stroke="#222" stroke-width="1.50">Дата</text>
<text font-size="64.0" fill="#222" font-style="italic" textLength="262.2" lengthAdjust="spacing" transform="translate(353.6 386.3) scale(0.0740 0.1)" font-weight="normal" stroke="#222" stroke-width="1.00">Разраб.</text>
<text font-size="64.0" fill="#222" font-style="italic" textLength="163.5" lengthAdjust="spacing" transform="translate(353.6 393.3) scale(0.0740 0.1)" font-weight="normal" stroke="#222" stroke-width="1.00">Пров.</text>
<text font-size="64.0" fill="#222" font-style="italic" textLength="270.3" lengthAdjust="spacing" transform="translate(353.6 400.5) scale(0.0740 0.1)" font-weight="normal" stroke="#222" stroke-width="1.00">Т.контр.</text>
<text font-size="64.0" fill="#222" font-style="italic" textLength="270.3" lengthAdjust="spacing" transform="translate(353.6 414.4) scale(0.0740 0.1)" font-weight="normal" stroke="#222" stroke-width="1.00">Н.контр.</text>
<text font-size="64.0" fill="#222" font-style="italic" textLength="139.2" lengthAdjust="spacing" transform="translate(353.6 421.6) scale(0.0740 0.1)" font-weight="normal" stroke="#222" stroke-width="1.00">Утв.</text>
<text font-size="56.0" fill="#3a3a3a" font-style="italic" textLength="147.4" lengthAdjust="spacing" transform="translate(549.5 372.4) scale(0.0780 0.1)" font-weight="normal" stroke="#3a3a3a" stroke-width="0.50">Лит.</text>
<text font-size="56.0" fill="#3a3a3a" textLength="197.4" lengthAdjust="spacing" transform="translate(570 372.4) scale(0.0780 0.1)" font-weight="normal" stroke="#3a3a3a" stroke-width="0.50">Масса</text>
<text font-size="56.0" fill="#3a3a3a" font-style="italic" textLength="312.8" lengthAdjust="spacing" transform="translate(591 372.4) scale(0.0780 0.1)" font-weight="normal" stroke="#3a3a3a" stroke-width="0.50">Масштаб</text>
<text font-size="76.0" fill="#222" textLength="53.8" lengthAdjust="spacing" transform="translate(546.3 386.8) scale(0.0780 0.1)" font-weight="normal" stroke="#222" stroke-width="2.00">И</text>
<line x1="576.3" y1="383.3" x2="579.3" y2="383.3" stroke="#333" stroke-width="0.9"/>
<text font-size="76.0" fill="#222" textLength="151.3" lengthAdjust="spacing" transform="translate(597.3 386.8) scale(0.0780 0.1)" font-weight="normal" stroke="#222" stroke-width="2.00">1:20</text>
<text font-size="56.0" fill="#3a3a3a" font-style="italic" textLength="159.0" lengthAdjust="spacing" transform="translate(548.7 400) scale(0.0780 0.1)" font-weight="normal" stroke="#3a3a3a" stroke-width="0.50">Лист</text>
<text font-size="56.0" fill="#3a3a3a" font-style="italic" textLength="238.5" lengthAdjust="spacing" transform="translate(575.4 400) scale(0.0780 0.1)" font-weight="normal" stroke="#3a3a3a" stroke-width="0.50">Листов</text>
<text font-size="56.0" fill="#3a3a3a" transform="translate(604.5 400) scale(0.1000 0.1)" font-weight="normal" stroke="#3a3a3a" stroke-width="0.50">1</text>
<rect x="547" y="405.4" width="9.6" height="12.6" fill="#111"/>
<ellipse cx="547" cy="407.0" rx="1.1" ry="1.5" fill="#111"/><ellipse cx="556.6" cy="407.0" rx="1.1" ry="1.5" fill="#111"/>
<ellipse cx="547" cy="410.2" rx="1.1" ry="1.5" fill="#111"/><ellipse cx="556.6" cy="410.2" rx="1.1" ry="1.5" fill="#111"/>
<ellipse cx="547" cy="413.4" rx="1.1" ry="1.5" fill="#111"/><ellipse cx="556.6" cy="413.4" rx="1.1" ry="1.5" fill="#111"/>
<ellipse cx="547" cy="416.5" rx="1.1" ry="1.5" fill="#111"/><ellipse cx="556.6" cy="416.5" rx="1.1" ry="1.5" fill="#111"/>
<line x1="548" y1="408.6" x2="555.6" y2="408.6" stroke="#444" stroke-width="0.5"/>
<line x1="548" y1="411.8" x2="555.6" y2="411.8" stroke="#444" stroke-width="0.5"/>
<line x1="548" y1="415.0" x2="555.6" y2="415.0" stroke="#444" stroke-width="0.5"/>
<path d="M560.3 405.3 V418.2 M560.6 412.5 L565.2 405.3 M562.2 410.3 L565.6 418.2" stroke="#111" stroke-width="2.4" fill="none"/>
<path d="M565.6 405.3 L568.3 418 L571.0 405.3" stroke="#111" stroke-width="2.4" fill="none"/>
<path d="M571.8 406.3 H577.1 L572.0 417.2 H577.4" stroke="#111" stroke-width="2.4" fill="none"/>
<path d="M579.4 418.2 V406.3 H581.5 Q583.6 406.3 583.6 409.2 Q583.6 412.0 581.5 412.0 H579.6 M581.6 412.0 L583.9 418.2" stroke="#111" stroke-width="2.4" fill="none"/>
<text font-size="54.0" fill="#444" textLength="350.0" lengthAdjust="spacing" transform="translate(587.2 411.3) scale(0.0780 0.1)" font-weight="normal">КОТЕЛЬНЫЙ</text>
<text font-size="54.0" fill="#444" textLength="320.5" lengthAdjust="spacing" transform="translate(587.2 417.9) scale(0.0780 0.1)" font-weight="normal">ЗАВОД РЭП</text>
<text font-size="56.0" fill="#333" font-style="italic" textLength="374.4" lengthAdjust="spacing" transform="translate(565.5 428) scale(0.0780 0.1)" font-weight="normal" stroke="#333" stroke-width="1.50">Формат А3</text>
</svg>
</body></html>
